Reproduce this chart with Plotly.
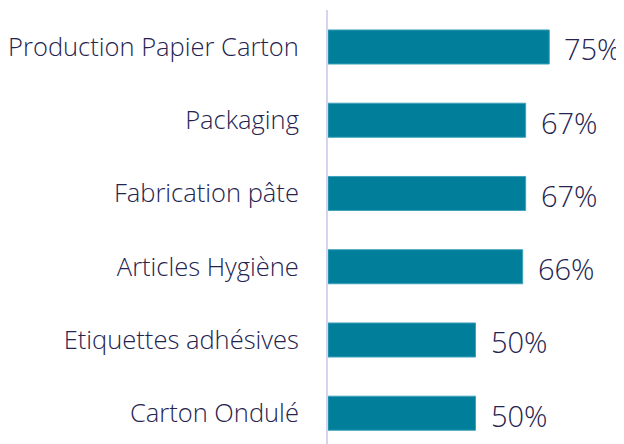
import plotly.graph_objects as go

categories = ["Production Papier Carton", "Packaging", "Fabrication pâte",
              "Articles Hygiène", "Etiquettes adhésives", "Carton Ondulé"]
values = [75, 67, 67, 66, 50, 50]
labels = ["75%", "67%", "67%", "66%", "50%", "50%"]

bar_color = "#007E9A"
text_color = "#25244F"
font_name = "Open Sans"

fig = go.Figure()
fig.add_trace(go.Bar(
    x=values,
    y=categories,
    orientation="h",
    marker=dict(color=bar_color, line=dict(color="#3FA3BA", width=1)),
    hoverinfo="skip",
))

# value labels sitting to the right of each bar
for cat, v, lab in zip(categories, values, labels):
    fig.add_annotation(x=v, y=cat, text=lab, showarrow=False,
                       xanchor="left", xshift=13, yshift=-2,
                       font=dict(family=font_name, size=29, weight=300,
                                 color=text_color))

# page body has an 8px margin, so the figure is 8px smaller each way
fig.update_layout(
    width=616, height=436,
    margin=dict(l=320, r=1, t=2, b=0),
    plot_bgcolor="white", paper_bgcolor="white",
    bargap=0.535,
    showlegend=False,
    font=dict(family=font_name, color=text_color),
)
fig.update_xaxes(range=[0, 100], visible=False)
fig.update_yaxes(
    categoryorder="array", categoryarray=categories,
    range=[5.42, -0.505],
    automargin=False,
    showline=True, linecolor="#D6D4F0", linewidth=2,
    ticks="", showgrid=False, zeroline=False,
    tickfont=dict(family=font_name, size=25.5, weight=300, color=text_color),
    ticklabelstandoff=22,
)

fig.write_html("out.html")
